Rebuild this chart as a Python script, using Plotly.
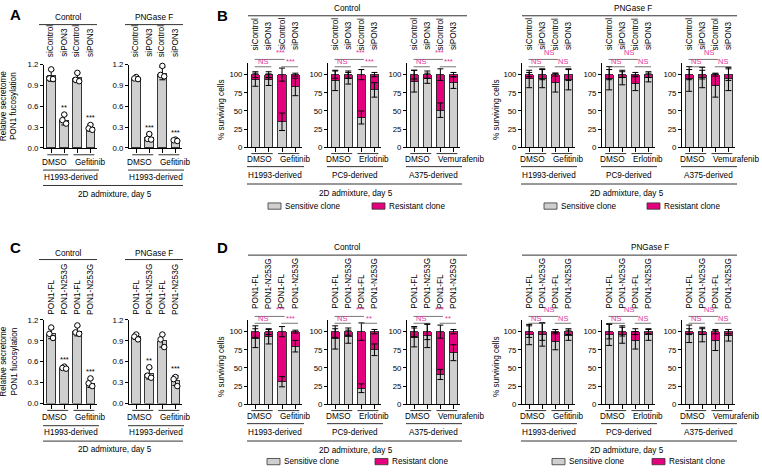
import plotly.graph_objects as go

# ---------------- data ----------------
A_labels = ["siControl", "siPON3", "siControl", "siPON3"]
C_labels = ["PON1-FL", "PON1-N253G", "PON1-FL", "PON1-N253G"]
AC_pairs = ["DMSO", "Gefitinib"]
AC_group = "H1993-derived"
AC_heads = ["Control", "PNGase F"]
AC_ticks = [0.0, 0.3, 0.6, 0.9, 1.2]
AC_ticktext = ["0.0", "0.3", "0.6", "0.9", "1.2"]
AC_ytitle = "Relative secretome<br>PON1 fucosylation"
BOTTOM_TITLE = "2D admixture, day 5"

A_ctrl_mean = [1.04, 0.40, 1.01, 0.29]
A_ctrl_sd = [0.08, 0.07, 0.07, 0.05]
A_ctrl_pts = [[1.13, 1.00, 0.99], [0.48, 0.40, 0.35], [1.08, 0.98, 0.96], [0.33, 0.28, 0.26]]
A_ctrl_sig = ["", "**", "", "***"]
A_png_mean = [1.00, 0.15, 1.07, 0.11]
A_png_sd = [0.02, 0.05, 0.09, 0.01]
A_png_pts = [[1.02, 1.00, 0.99], [0.20, 0.13, 0.12], [1.18, 1.05, 1.03], [0.12, 0.11, 0.10]]
A_png_sig = ["", "***", "", "***"]

C_ctrl_mean = [1.00, 0.51, 1.04, 0.29]
C_ctrl_sd = [0.07, 0.02, 0.07, 0.06]
C_ctrl_pts = [[1.09, 1.00, 0.94], [0.53, 0.51, 0.50], [1.12, 1.02, 1.00], [0.36, 0.29, 0.25]]
C_ctrl_sig = ["", "***", "", "***"]
C_png_mean = [0.96, 0.43, 0.90, 0.33]
C_png_sd = [0.04, 0.08, 0.09, 0.07]
C_png_pts = [[0.99, 0.96, 0.92], [0.52, 0.40, 0.37], [0.99, 0.92, 0.81], [0.38, 0.35, 0.25]]
C_png_sig = ["", "**", "", "***"]

BD_groups = ["H1993-derived", "PC9-derived", "A375-derived"]
BD_drugs = ["Gefitinib", "Erlotinib", "Vemurafenib"]
B_labels = ["siControl", "siPON3", "siControl", "siPON3"]
D_labels = ["PON1-FL", "PON1-N253G", "PON1-FL", "PON1-N253G"]
BD_ticks = [0, 25, 50, 75, 100]
BD_ytitle = "% surviving cells"
legend_names = ["Sensitive clone", "Resistant clone"]

B_ctrl_sens = [[93, 93, 35, 83], [92, 95, 41, 79], [91, 95, 51, 89]]
B_ctrl_res = [[7, 7, 65, 17], [8, 5, 59, 21], [9, 5, 49, 11]]
B_ctrl_sens_err = [[9, 8, 12, 12], [14, 8, 9, 10], [15, 7, 10, 8]]
B_ctrl_res_err = [[4, 4, 9, 2], [5, 5, 7, 3], [6, 5, 8, 3]]
B_ctrl_sig = [["***", "NS", "***"], ["***", "NS", "***"], ["***", "NS", "***"]]

B_png_sens = [[94, 95, 89, 93], [95, 96, 88, 96], [94, 96, 85, 94]]
B_png_res = [[6, 5, 11, 7], [5, 4, 12, 4], [6, 4, 15, 6]]
B_png_sens_err = [[12, 13, 13, 14], [16, 10, 10, 6], [17, 14, 16, 16]]
B_png_res_err = [[3, 7, 2, 8], [7, 4, 3, 4], [7, 6, 2, 8]]
B_png_sig = [["NS", "NS", "NS"], ["NS", "NS", "NS"], ["NS", "NS", "NS"]]

D_ctrl_sens = [[91, 93, 31, 80], [90, 93, 22, 75], [92, 94, 41, 71]]
D_ctrl_res = [[9, 7, 69, 20], [10, 7, 78, 25], [8, 6, 59, 29]]
D_ctrl_sens_err = [[13, 10, 7, 8], [14, 9, 6, 8], [13, 16, 7, 11]]
D_ctrl_res_err = [[8, 4, 7, 2], [8, 5, 12, 3], [7, 11, 9, 3]]
D_ctrl_sig = [["***", "NS", "***"], ["***", "NS", "**"], ["***", "NS", "**"]]

D_png_sens = [[96, 96, 87, 95], [96, 96, 88, 96], [97, 96, 88, 95]]
D_png_res = [[4, 4, 13, 5], [4, 4, 12, 4], [3, 4, 12, 5]]
D_png_sens_err = [[14, 16, 12, 7], [15, 12, 12, 8], [12, 10, 14, 8]]
D_png_res_err = [[8, 12, 3, 4], [10, 6, 4, 3], [4, 4, 3, 3]]
D_png_sig = [["NS", "NS", "NS"], ["NS", "NS", "NS"], ["NS", "NS", "NS"]]

# ---------------- style ----------------
W, H = 762, 472
FONT = "Liberation Sans, Arial, Helvetica, sans-serif"
FS = 8.2
GRAY = "#cfcfcf"
PINK = "#e5007e"
SIGPINK = "#e2369a"
BRK = "#555555"
LINEC = "#333333"
JIT = [0.0, -0.14, 0.14]


def fx(x):
    return x / W


def fy(y):
    return 1 - y / H


fig = go.Figure()
axes = {}
shapes = []
annots = []
count = [0]


def text(x, y, s, size=FS, color="black", angle=0, xanchor="center",
         yanchor="middle", xref="paper", bold=False):
    xx = fx(x) if xref == "paper" else x
    annots.append(dict(x=xx, y=fy(y), xref=xref, yref="paper", text=("<b>%s</b>" % s) if bold else s,
                       showarrow=False, textangle=angle, xanchor=xanchor, yanchor=yanchor,
                       font=dict(size=size, color=color, family=FONT), borderpad=0))


def hline(x0, x1, y, xref="paper", color=LINEC, width=1):
    if xref == "paper":
        x0, x1 = fx(x0), fx(x1)
    shapes.append(dict(type="line", xref=xref, yref="paper", x0=x0, x1=x1, y0=fy(y), y1=fy(y),
                       line=dict(color=color, width=width)))


def rect(x0, x1, y0, y1, color):
    shapes.append(dict(type="rect", xref="paper", yref="paper", x0=fx(x0), x1=fx(x1), y0=fy(y1), y1=fy(y0),
                       fillcolor=color, line=dict(color="#333333", width=0.8)))


def new_axes(x0, x1, ytop, ybot, yrange, tickvals, ticktext):
    count[0] += 1
    n = count[0]
    s = "" if n == 1 else str(n)
    axes["xaxis" + s] = dict(domain=[fx(x0), fx(x1)], anchor="y" + s, range=[-0.55, 3.5],
                             tickvals=[0, 1, 2, 3], ticktext=["", "", "", ""], ticks="outside",
                             ticklen=4, tickwidth=1, tickcolor="black", showline=True,
                             linecolor="black", linewidth=1, showgrid=False, zeroline=False,
                             fixedrange=True)
    axes["yaxis" + s] = dict(domain=[fy(ybot), fy(ytop)], anchor="x" + s, range=yrange,
                             tickvals=tickvals, ticktext=ticktext, ticks="outside", ticklen=3,
                             tickwidth=1, tickcolor="black", showline=True, linecolor="black",
                             linewidth=1, showgrid=False, zeroline=False, fixedrange=True,
                             tickfont=dict(size=7.8, family=FONT, color="black"))
    return "x" + s, "y" + s


def xlabels(xr, x0, x1, ybot, pairs, group, offs):
    hline(-0.3, 1.3, ybot + offs[0], xref=xr)
    hline(1.7, 3.3, ybot + offs[0], xref=xr)
    c = (x0 + x1) / 2
    text(c - 2.5, ybot + offs[1], pairs[0], xanchor="right")
    text(c + 3.5, ybot + offs[1], pairs[1], xanchor="left")
    hline(x0 - 1, x1 + 2, ybot + offs[2])
    text(c, ybot + offs[3], group)


def rot_labels(xr, labels, bottom):
    for i, lab in enumerate(labels):
        annots.append(dict(x=i, y=fy(bottom), xref=xr, yref="paper", text=lab, showarrow=False,
                           textangle=-90, xanchor="center", yanchor="bottom", borderpad=0,
                           font=dict(size=FS, family=FONT, color="black")))


def ac_plot(x0, x1, ytop, ybot, labels, mean, sd, pts, sig, label_bottom):
    xr, yr = new_axes(x0, x1, ytop, ybot, [0, 1.2], AC_ticks, AC_ticktext)
    xs = [0, 1, 2, 3]
    fig.add_trace(go.Bar(x=xs, y=mean, width=0.68,
                         marker=dict(color=GRAY, line=dict(color="#222222", width=0.9)),
                         xaxis=xr, yaxis=yr, hoverinfo="skip"))
    fig.add_trace(go.Scatter(x=xs, y=mean, mode="markers", marker=dict(size=1, color="rgba(0,0,0,0)"),
                             error_y=dict(type="data", array=sd, color="black", thickness=1, width=3),
                             xaxis=xr, yaxis=yr, cliponaxis=False, hoverinfo="skip"))
    px_, py_ = [], []
    for i, p in enumerate(pts):
        for j, v in enumerate(p):
            px_.append(i + JIT[j])
            py_.append(v)
    fig.add_trace(go.Scatter(x=px_, y=py_, mode="markers",
                             marker=dict(symbol="circle", size=5.5, color="white",
                                         line=dict(color="black", width=1)),
                             xaxis=xr, yaxis=yr, cliponaxis=False, hoverinfo="skip"))
    for i, s in enumerate(sig):
        if s:
            top = max(max(pts[i]), mean[i] + sd[i]) + 0.02
            annots.append(dict(x=i, y=top, xref=xr, yref=yr, text=s, showarrow=False, yanchor="bottom",
                               font=dict(size=7.5, family=FONT, color="black"), borderpad=0))
    rot_labels(xr, labels, label_bottom)
    return xr


def ac_panel(letter, g):
    ytop, ybot = g["ytop"], g["ybot"]
    if letter == "A":
        labels = A_labels
        data = [(A_ctrl_mean, A_ctrl_sd, A_ctrl_pts, A_ctrl_sig), (A_png_mean, A_png_sd, A_png_pts, A_png_sig)]
    else:
        labels = C_labels
        data = [(C_ctrl_mean, C_ctrl_sd, C_ctrl_pts, C_ctrl_sig), (C_png_mean, C_png_sd, C_png_pts, C_png_sig)]
    xs = [(44, 97), (129, 182)]
    hx = [(39, 97), (125, 183)]
    offs = [7, 14.5, 22.6, 29.8]
    for k in range(2):
        m, s, p, sg = data[k]
        xr = ac_plot(xs[k][0], xs[k][1], ytop, ybot, labels, m, s, p, sg, g["lab"])
        xlabels(xr, xs[k][0], xs[k][1], ybot, AC_pairs, AC_group, offs)
        text((hx[k][0] + hx[k][1]) / 2, g["head"], AC_heads[k])
        hline(hx[k][0], hx[k][1], g["hline"])
    hline(43, 183, ybot + 38.3)
    text(115, ybot + 47.3, BOTTOM_TITLE)
    text(9, (ytop + ybot) / 2, AC_ytitle, angle=-90)
    text(15, g["letter"], letter, size=15, bold=True)


def bd_block(xr_list, ybot, ytop, labels, sens, res, serr, rerr, sig, label_bottom, br_hi, br_lo, hi_x):
    for k in range(3):
        x0, x1 = xr_list[k]
        xr, yr = new_axes(x0, x1, ytop, ybot, [0, 116], BD_ticks, [str(t) for t in BD_ticks])
        xs = [0, 1, 2, 3]
        fig.add_trace(go.Bar(x=xs, y=sens[k], width=0.62,
                             marker=dict(color=GRAY, line=dict(color="#222222", width=0.9)),
                             xaxis=xr, yaxis=yr, hoverinfo="skip"))
        fig.add_trace(go.Bar(x=xs, y=res[k], width=0.62,
                             marker=dict(color=PINK, line=dict(color="#222222", width=0.9)),
                             xaxis=xr, yaxis=yr, hoverinfo="skip"))
        tops = [sens[k][i] + res[k][i] for i in range(4)]
        fig.add_trace(go.Scatter(x=xs, y=sens[k], mode="markers",
                                 marker=dict(size=1, color="rgba(0,0,0,0)"),
                                 error_y=dict(type="data", array=serr[k], color="black", thickness=1, width=3),
                                 xaxis=xr, yaxis=yr, cliponaxis=False, hoverinfo="skip"))
        fig.add_trace(go.Scatter(x=xs, y=tops, mode="markers",
                                 marker=dict(size=1, color="rgba(0,0,0,0)"),
                                 error_y=dict(type="data", array=rerr[k], color="black", thickness=1, width=3),
                                 xaxis=xr, yaxis=yr, cliponaxis=False, hoverinfo="skip"))
        rot_labels(xr, labels, label_bottom)
        s_hi, s_lo1, s_lo2 = sig[k]
        hline(-0.05, 2.2, br_hi, xref=xr, color=BRK, width=0.8)
        text(hi_x, br_hi - 1.0, s_hi, size=7.5, xref=xr, color=SIGPINK, yanchor="bottom")
        hline(-0.05, 1.2, br_lo, xref=xr, color=BRK, width=0.8)
        text(0.55, br_lo + 0.5, s_lo1, size=7.5, xref=xr, color=SIGPINK, yanchor="bottom")
        hline(1.95, 3.2, br_lo, xref=xr, color=BRK, width=0.8)
        text(2.6, br_lo + 0.5, s_lo2, size=7.5, xref=xr, color=SIGPINK, yanchor="bottom")
        xlabels(xr, x0, x1, ybot, ["DMSO", BD_drugs[k]], BD_groups[k], [6.5, 12.5, 19.8, 28.5])


def bd_panel(letter, g):
    ybot = g["ybot"]
    ytop = ybot - 116 * 0.74
    if letter == "B":
        lab = B_labels
        ctrl = (B_ctrl_sens, B_ctrl_res, B_ctrl_sens_err, B_ctrl_res_err, B_ctrl_sig)
        png = (B_png_sens, B_png_res, B_png_sens_err, B_png_res_err, B_png_sig)
    else:
        lab = D_labels
        ctrl = (D_ctrl_sens, D_ctrl_res, D_ctrl_sens_err, D_ctrl_res_err, D_ctrl_sig)
        png = (D_png_sens, D_png_res, D_png_sens_err, D_png_res_err, D_png_sig)
    ctrl_x = [(248, 302), (328, 381), (407, 460)]
    png_x = [(522, 575), (602, 655), (682, 735)]
    bd_block(ctrl_x, ybot, ytop, lab, *ctrl, g["lab"], g["hi"], g["lo"], 1.9)
    bd_block(png_x, ybot, ytop, lab, *png, g["lab"], g["hi"], g["lo"], 1.5)
    text(347, g["head"], AC_heads[0])
    hline(248, 467, g["hline"])
    text(g["pngx"], g["head"], AC_heads[1])
    hline(522, 737, g["hline"])
    hline(247, 462, ybot + 37.5)
    hline(521, 737, ybot + 37.5)
    text(356, ybot + 47.3, BOTTOM_TITLE)
    text(627, ybot + 47.3, BOTTOM_TITLE)
    lg = g["legend"]
    for (sx, rx) in g["legx"]:
        rect(sx, sx + 13, lg - 3.2, lg + 3.2, GRAY)
        text(sx + 16, lg, legend_names[0], xanchor="left")
        rect(rx, rx + 13, lg - 3.2, lg + 3.2, PINK)
        text(rx + 16, lg, legend_names[1], xanchor="left")
    for xt in [221, 496]:
        text(xt, (ybot + ytop) / 2 + 5, BD_ytitle, angle=-90)
    text(222, g["letter"], letter, size=15, bold=True)


ac_panel("A", dict(ytop=61.7, ybot=146.7, lab=55, head=14, hline=21, letter=11))
ac_panel("C", dict(ytop=322, ybot=407.3, lab=318, head=254, hline=260.5, letter=248))
bd_panel("B", dict(ybot=146, lab=48, hi=56.5, lo=64, head=4.8, hline=12, pngx=633,
                   legend=206, legx=[(268, 372), (544, 647)], letter=12))
bd_panel("D", dict(ybot=408, lab=312, hi=318.5, lo=325.5, head=248, hline=256, pngx=650,
                   legend=466.5, legx=[(267, 375), (552, 652)], letter=248))

fig.update_layout(width=W, height=H, margin=dict(l=0, r=0, t=0, b=0), paper_bgcolor="white",
                  plot_bgcolor="white", showlegend=False, barmode="stack", bargap=0,
                  font=dict(family=FONT, size=FS, color="black"),
                  shapes=shapes, annotations=annots, **axes)
fig.write_html("out.html", config=dict(staticPlot=True, displayModeBar=False),
               post_script="document.body.style.margin='0px';")
